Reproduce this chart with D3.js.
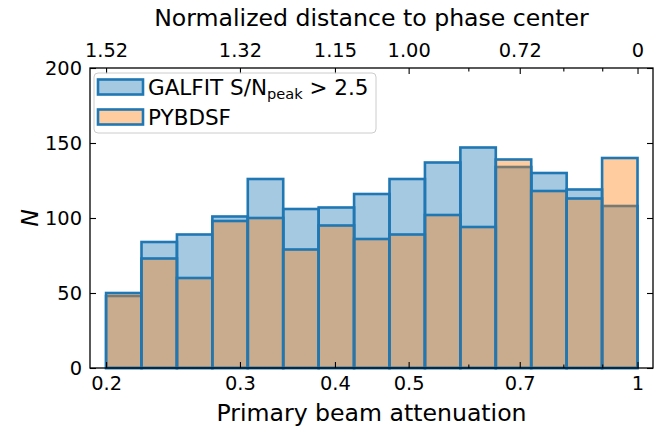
<!DOCTYPE html>
<html>
<head>
<meta charset="utf-8">
<script src="https://cdn.jsdelivr.net/npm/d3@7/dist/d3.min.js"></script>
<style>
  body { margin: 0; background: #fff; }
  text { font-family: "DejaVu Sans", sans-serif; fill: #000; }
</style>
</head>
<body>
<div id="chart"><svg></svg></div>
<script>
// histogram counts per bin (15 log-spaced bins from 0.2 to 1)
var galfitCounts = [48, 84, 89, 101, 126, 106, 107, 116, 126, 137, 147, 134, 130, 119, 108];
var pybdsfCounts = [50, 73, 60, 98, 100, 79, 95, 86, 89, 102, 94, 139, 118, 113, 140];
var binLo = 0.2, binHi = 1.0, nBins = 15;
var binEdges = d3.range(nBins + 1).map(function(i) { return binLo * Math.pow(binHi / binLo, i / nBins); });

var bottomTicks = [0.2, 0.3, 0.4, 0.5, 0.7, 1];
var bottomTickLabels = ["0.2", "0.3", "0.4", "0.5", "0.7", "1"];
var minorTicks = [0.6, 0.8, 0.9];
var topTickLabels = ["1.52", "1.32", "1.15", "1.00", "0.72", "0"];
var yTicks = [0, 50, 100, 150, 200];

var seriesNames = ["GALFIT", "PYBDSF"];

var width = 665, height = 432;
var margin = {left: 90, right: 12, top: 68, bottom: 64};

var svg = d3.select("#chart svg").attr("width", width).attr("height", height);

var x = d3.scaleLog().domain([0.1905, 1.048]).range([margin.left, width - margin.right]);
var y = d3.scaleLinear().domain([0, 200]).range([height - margin.bottom, margin.top]);

var blueFill = "rgba(31,119,180,0.4)", orangeFill = "rgba(255,127,14,0.4)", edge = "#1f77b4";

function drawBars(counts, fill) {
  svg.append("g").selectAll("rect")
    .data(counts)
    .enter()
    .append("rect")
    .attr("x", function(d, i) { return x(binEdges[i]); })
    .attr("width", function(d, i) { return x(binEdges[i + 1]) - x(binEdges[i]); })
    .attr("y", function(d) { return y(d); })
    .attr("height", function(d) { return y(0) - y(d); })
    .style("fill", fill)
    .style("stroke", edge)
    .style("stroke-width", 2.6);
}
drawBars(galfitCounts, blueFill);
drawBars(pybdsfCounts, orangeFill);

// axes: ticks pointing inward on all four sides
var axisBottom = d3.axisBottom(x).tickValues(bottomTicks).tickFormat(function(d, i) { return bottomTickLabels[i]; })
  .tickSizeInner(-6).tickSizeOuter(0).tickPadding(8);
var axisTop = d3.axisTop(x).tickValues(bottomTicks).tickFormat(function(d, i) { return topTickLabels[i]; })
  .tickSizeInner(-6).tickSizeOuter(0).tickPadding(11);
var axisLeft = d3.axisLeft(y).tickValues(yTicks).tickSizeInner(-6).tickSizeOuter(0).tickPadding(8);
var axisRight = d3.axisRight(y).tickValues(yTicks).tickFormat("").tickSizeInner(-6).tickSizeOuter(0);

var gB = svg.append("g").attr("transform", "translate(0," + y(0) + ")").call(axisBottom);
var gT = svg.append("g").attr("transform", "translate(0," + y(200) + ")").call(axisTop);
var gL = svg.append("g").attr("transform", "translate(" + x.range()[0] + ",0)").call(axisLeft);
var gR = svg.append("g").attr("transform", "translate(" + x.range()[1] + ",0)").call(axisRight);

[gB, gT, gL, gR].forEach(function(g) {
  g.select(".domain").remove();
  g.selectAll(".tick line").style("stroke", "#000").style("stroke-width", 1.1);
  g.selectAll(".tick text").style("font-family", "DejaVu Sans").style("font-size", "19.4px");
});

// minor ticks
[[y(0), -3.5], [y(200), 3.5]].forEach(function(p) {
  svg.append("g").selectAll("line").data(minorTicks).enter().append("line")
    .attr("x1", function(d) { return x(d); }).attr("x2", function(d) { return x(d); })
    .attr("y1", p[0]).attr("y2", p[0] + p[1])
    .style("stroke", "#000").style("stroke-width", 1.1);
});

// frame
svg.append("rect")
  .attr("x", x.range()[0]).attr("y", y(200))
  .attr("width", x.range()[1] - x.range()[0]).attr("height", y(0) - y(200))
  .style("fill", "none").style("stroke", "#000").style("stroke-width", 1.3);

// axis labels
svg.append("text").attr("x", (x.range()[0] + x.range()[1]) / 2).attr("y", 421)
  .attr("text-anchor", "middle").style("font-size", "23.6px").text("Primary beam attenuation");
svg.append("text").attr("x", (x.range()[0] + x.range()[1]) / 2).attr("y", 26)
  .attr("text-anchor", "middle").style("font-size", "23.6px").text("Normalized distance to phase center");
svg.append("text").attr("transform", "translate(38," + (y(100)) + ") rotate(-90)")
  .attr("text-anchor", "middle").style("font-size", "23.6px").style("font-style", "italic").text("N");

// legend
var legend = svg.append("g").attr("transform", "translate(94,73)");
legend.append("rect").attr("width", 282).attr("height", 60).attr("rx", 4)
  .style("fill", "rgba(255,255,255,0.8)").style("stroke", "#cccccc").style("stroke-width", 1);
[blueFill, orangeFill].forEach(function(c, i) {
  legend.append("rect").attr("x", 4).attr("y", 6.5 + i * 30).attr("width", 45).attr("height", 15)
    .style("fill", c).style("stroke", edge).style("stroke-width", 2.6);
});
var t1 = legend.append("text").attr("x", 54).attr("y", 21.5).style("font-size", "21.5px");
t1.append("tspan").text(seriesNames[0] + " S/N");
t1.append("tspan").attr("dy", 4.5).style("font-size", "14.6px").text("peak");
t1.append("tspan").attr("dy", -4.5).text(" > 2.5");
legend.append("text").attr("x", 54).attr("y", 51.5).style("font-size", "21.5px").text(seriesNames[1]);
</script>
</body>
</html>
